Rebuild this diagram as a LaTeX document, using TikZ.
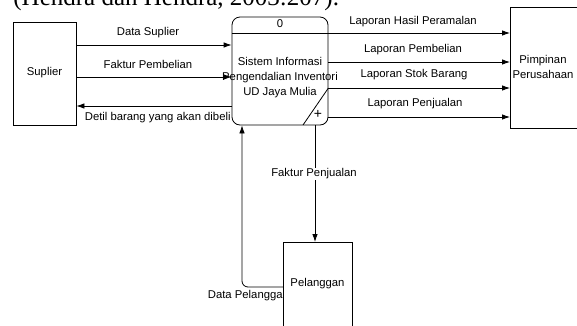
\documentclass[tikz,border=0pt]{standalone}
\usepackage{fontspec}
\setmainfont{Liberation Sans}
\newfontfamily\citefont{Liberation Serif}
\usetikzlibrary{arrows.meta,calc}
\begin{document}
\begin{tikzpicture}[x=1pt,y=-1pt,
  line width=0.8pt,
  every node/.style={font=\fontsize{11.3}{15}\selectfont},
  entity/.style={draw,fill=white,rectangle,inner sep=0pt},
  lbl/.style={inner sep=0.5pt},
  flow/.style={draw,-{Latex[length=8pt,width=5.5pt]}}]
  \useasboundingbox[clip] (0,0) rectangle (577,325);

  % citation line running above the figure
  \node[anchor=base west,inner sep=0pt,font=\citefont\fontsize{25}{30}\selectfont]
    (cite) at (13,5.5) {(Hendra dan Hendra, 2003:207).};

  % external entities
  \node[entity,minimum width=63pt,minimum height=103pt] (sup) at (44.5,73.5) {};
  \node (suptxt) at (44.5,73) {Suplier};
  \node[entity,minimum width=70pt,minimum height=121pt,anchor=north west] (pim) at (510,7) {};
  \node[align=center,inner sep=0pt] (pimtxt) at (543,67) {Pimpinan\\Perusahaan};

  % process
  \node[draw,rectangle,rounded corners=8pt,minimum width=96pt,minimum height=108pt,inner sep=0pt]
    (proc) at (280,71) {};
  \draw (proc.west |- 0,33) -- (proc.east |- 0,33);
  \node (pnum) at (280,24) {0};
  \node[align=center,inner sep=0pt] (ptxt) at (280,78)
    {Sistem Informasi\\Pengendalian Inventori\\UD Jaya Mulia};
  \coordinate (dg1) at (303,125);
  \coordinate (dg2) at (proc.east |- 0,88);
  \draw (dg1) -- (dg2);
  \node[inner sep=0pt,font=\fontsize{14}{15}\selectfont] (plus) at (318,114) {+};

  % flows between Suplier and the process
  \draw[flow] (sup.east |- 0,45) -- (proc.west |- 0,45);
  \node[lbl] (l1) at (148,33) {Data Suplier};
  \draw[flow] (sup.east |- 0,77) -- (proc.west |- 0,77);
  \node[lbl] (l2) at (148,64) {Faktur Pembelian};
  \draw[flow] (proc.west |- 0,106) -- (sup.east |- 0,106);
  \node[lbl,anchor=east] (l3) at (231.5,118) {Detil barang yang akan dibeli};

  % reports to the management
  \draw[flow] (proc.east |- 0,33) -- (pim.west |- 0,33);
  \node[lbl] (r1) at (413,22) {Laporan Hasil Peramalan};
  \draw[flow] (proc.east |- 0,62) -- (pim.west |- 0,62);
  \node[lbl] (r2) at (413,50) {Laporan Pembelian};
  \draw[flow] (dg2) -- (pim.west |- 0,88);
  \node[lbl] (r3) at (414,75) {Laporan Stok Barang};
  \draw[flow] (proc.east |- 0,117) -- (pim.west |- 0,117);
  \node[lbl] (r4) at (415,104) {Laporan Penjualan};

  % customer side
  \node[lbl,anchor=west] (l5) at (207,296) {Data Pelanggan};
  \node[entity,minimum width=69pt,minimum height=100pt,anchor=north west] (pel) at (283,242) {};
  \node (peltxt) at (317.5,284) {Pelanggan};
  \draw[flow,rounded corners=6pt] (pel.west |- 0,287) -- (242,287) -- (proc.south -| 242,0);
  \draw[flow] (proc.south -| 315,0) -- (pel.north -| 315,0);
  \node[lbl,fill=white] (l4) at (314,174) {Faktur Penjualan};
\end{tikzpicture}
\end{document}
